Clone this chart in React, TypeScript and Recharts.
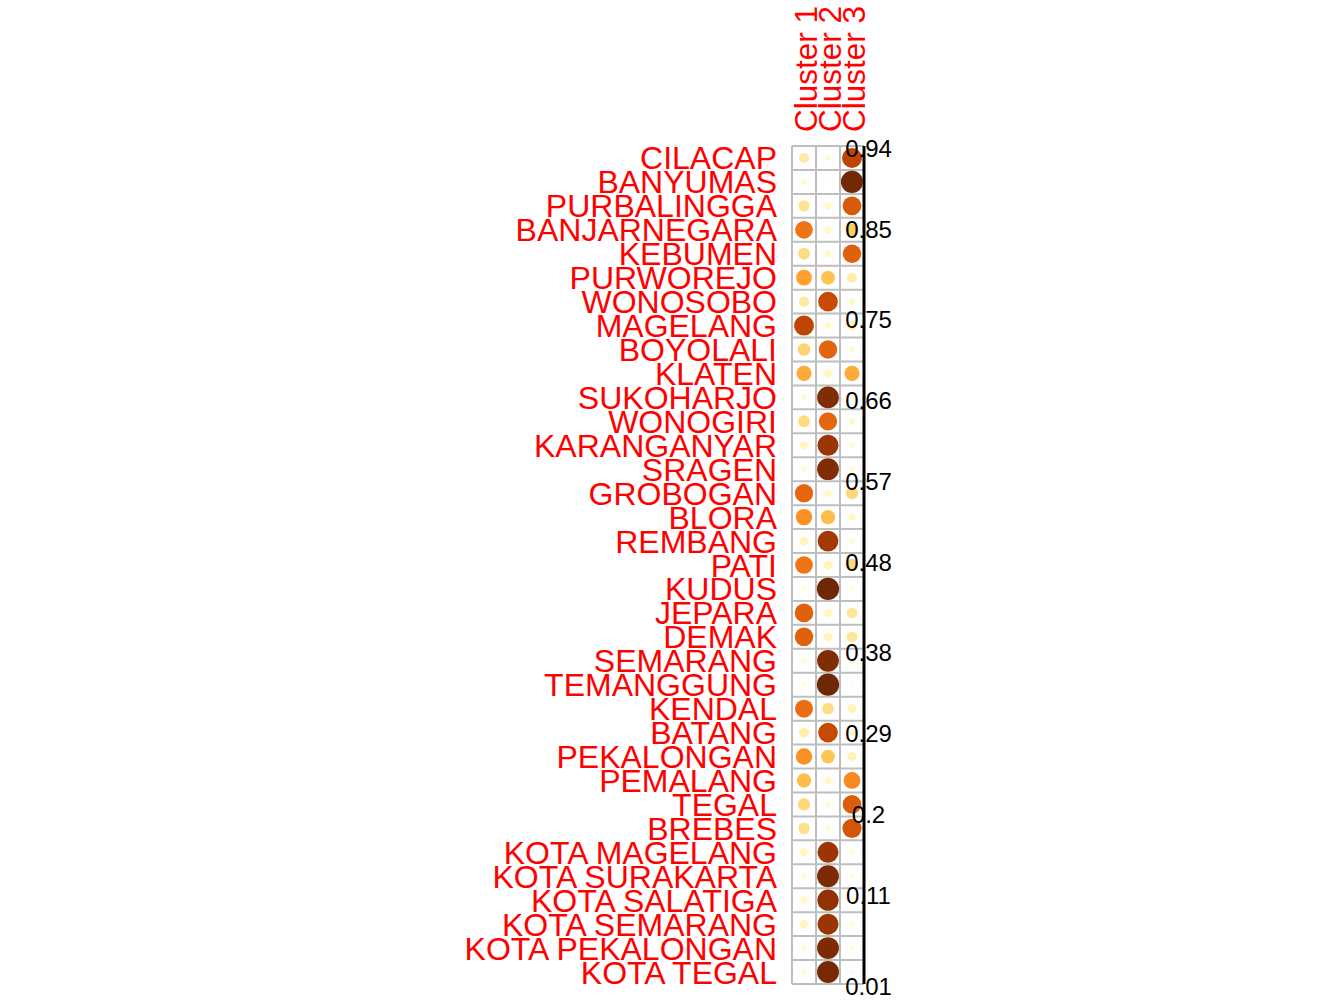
import React from 'react';
import { ScatterChart, Scatter, XAxis, YAxis, ReferenceLine } from 'recharts';

const regions = [
  'CILACAP', 'BANYUMAS', 'PURBALINGGA', 'BANJARNEGARA', 'KEBUMEN', 'PURWOREJO', 'WONOSOBO',
  'MAGELANG', 'BOYOLALI', 'KLATEN', 'SUKOHARJO', 'WONOGIRI', 'KARANGANYAR', 'SRAGEN',
  'GROBOGAN', 'BLORA', 'REMBANG', 'PATI', 'KUDUS', 'JEPARA', 'DEMAK', 'SEMARANG',
  'TEMANGGUNG', 'KENDAL', 'BATANG', 'PEKALONGAN', 'PEMALANG', 'TEGAL', 'BREBES',
  'KOTA MAGELANG', 'KOTA SURAKARTA', 'KOTA SALATIGA', 'KOTA SEMARANG', 'KOTA PEKALONGAN', 'KOTA TEGAL',
];

const clusterNames = ['Cluster 1', 'Cluster 2', 'Cluster 3'];

const cluster1 = [
  0.19, 0.07, 0.24, 0.58, 0.27, 0.46, 0.20, 0.74, 0.30, 0.43, 0.07, 0.27, 0.12, 0.06,
  0.62, 0.50, 0.14, 0.58, 0.04, 0.64, 0.64, 0.06, 0.05, 0.60, 0.18, 0.50, 0.38, 0.28,
  0.25, 0.12, 0.07, 0.10, 0.12, 0.07, 0.07,
];
const cluster2 = [
  0.07, 0.02, 0.10, 0.10, 0.09, 0.36, 0.72, 0.09, 0.63, 0.12, 0.88, 0.62, 0.82, 0.88,
  0.10, 0.38, 0.80, 0.14, 0.92, 0.12, 0.14, 0.88, 0.92, 0.26, 0.72, 0.35, 0.10, 0.07,
  0.07, 0.82, 0.89, 0.84, 0.82, 0.89, 0.90,
];
const cluster3 = [
  0.74, 0.91, 0.66, 0.32, 0.64, 0.18, 0.08, 0.17, 0.07, 0.43, 0.05, 0.08, 0.06, 0.06,
  0.28, 0.10, 0.06, 0.28, 0.04, 0.22, 0.22, 0.06, 0.03, 0.14, 0.10, 0.15, 0.52, 0.65,
  0.68, 0.06, 0.04, 0.06, 0.06, 0.04, 0.03,
];

const legendTicks = [0.01, 0.11, 0.2, 0.29, 0.38, 0.48, 0.57, 0.66, 0.75, 0.85, 0.94];

const palette = ['#FFFFE5', '#FFF7BC', '#FEE391', '#FEC44F', '#FE9929', '#EC7014', '#CC4C02', '#993404', '#662506'];

function hexToRgb(h: string) {
  return [parseInt(h.slice(1, 3), 16), parseInt(h.slice(3, 5), 16), parseInt(h.slice(5, 7), 16)];
}

function colorFor(v: number) {
  const lo = legendTicks[0];
  const hi = legendTicks[legendTicks.length - 1];
  let t = (v - lo) / (hi - lo);
  t = Math.max(0, Math.min(1, t));
  const pos = t * (palette.length - 1);
  const i = Math.min(palette.length - 2, Math.floor(pos));
  const f = pos - i;
  const a = hexToRgb(palette[i]);
  const b = hexToRgb(palette[i + 1]);
  const c = a.map((x, k) => Math.round(x + (b[k] - x) * f));
  return `rgb(${c[0]},${c[1]},${c[2]})`;
}

const series = [cluster1, cluster2, cluster3];
const points = series.flatMap((vals, c) => vals.map((v, i) => ({ x: c, y: i, v })));

const FONT = '"Liberation Sans", Arial, sans-serif';

const RowTick = (props: any) => {
  const { x, y, payload } = props;
  return (
    <text x={x} y={y} dy="0.36em" textAnchor="end" fill="#FF0000" fontSize={32} fontFamily={FONT}>
      {regions[payload.value]}
    </text>
  );
};

const ColTick = (props: any) => {
  const { x, y, payload } = props;
  return (
    <text
      x={x}
      y={y}
      dy="0.4em"
      textAnchor="start"
      fill="#FF0000"
      fontSize={31.5}
      fontFamily={FONT}
      transform={`rotate(-90, ${x}, ${y})`}
    >
      {clusterNames[payload.value]}
    </text>
  );
};

const LegendTick = (props: any) => {
  const { x, y, payload } = props;
  return (
    <text x={x + 4.5} y={y} dy="0.44em" textAnchor="middle" fill="#000000" fontSize={24} fontFamily={FONT}>
      {String(payload.value)}
    </text>
  );
};

const Dot = (p: any) => {
  const v = p.payload.v;
  return <circle cx={p.cx} cy={p.cy} r={11.6 * Math.sqrt(v)} fill={colorFor(v)} />;
};

const vLines = [-0.5, 0.5, 1.5, 2.5];
const hLines = Array.from({ length: regions.length + 1 }, (_, i) => i - 0.5);

export default function App() {
  return (
    <div style={{ position: 'absolute', left: 0, top: 0, background: '#fff' }}>
      <ScatterChart width={1344} height={1008} margin={{ top: 0, right: 0, bottom: 24, left: 0 }}>
        <XAxis
          type="number"
          dataKey="x"
          orientation="top"
          domain={[-0.5, 2.5]}
          ticks={[0, 1, 2]}
          height={146}
          axisLine={false}
          tickLine={false}
          tickSize={0}
          tickMargin={14}
          tick={<ColTick />}
          interval={0}
        />
        <YAxis
          yAxisId="rows"
          type="number"
          dataKey="y"
          domain={[-0.5, regions.length - 0.5]}
          ticks={regions.map((_, i) => i)}
          reversed
          width={792}
          axisLine={false}
          tickLine={false}
          tickSize={0}
          tickMargin={15}
          tick={<RowTick />}
          interval={0}
        />
        <YAxis
          yAxisId="legend"
          orientation="right"
          type="number"
          domain={[0.01, 0.94]}
          allowDataOverflow
          ticks={legendTicks}
          width={480}
          axisLine={{ stroke: '#000', strokeWidth: 3 }}
          tickLine={false}
          tickSize={0}
          tickMargin={0}
          tick={<LegendTick />}
          interval={0}
        />
        {vLines.map((v) => (
          <ReferenceLine key={'v' + v} x={v} yAxisId="rows" stroke="#BEBEBE" strokeWidth={2} ifOverflow="visible" />
        ))}
        {hLines.map((h) => (
          <ReferenceLine key={'h' + h} y={h} yAxisId="rows" stroke="#BEBEBE" strokeWidth={2} ifOverflow="visible" />
        ))}
        <Scatter data={points} yAxisId="rows" shape={<Dot />} isAnimationActive={false} />
      </ScatterChart>
    </div>
  );
}
